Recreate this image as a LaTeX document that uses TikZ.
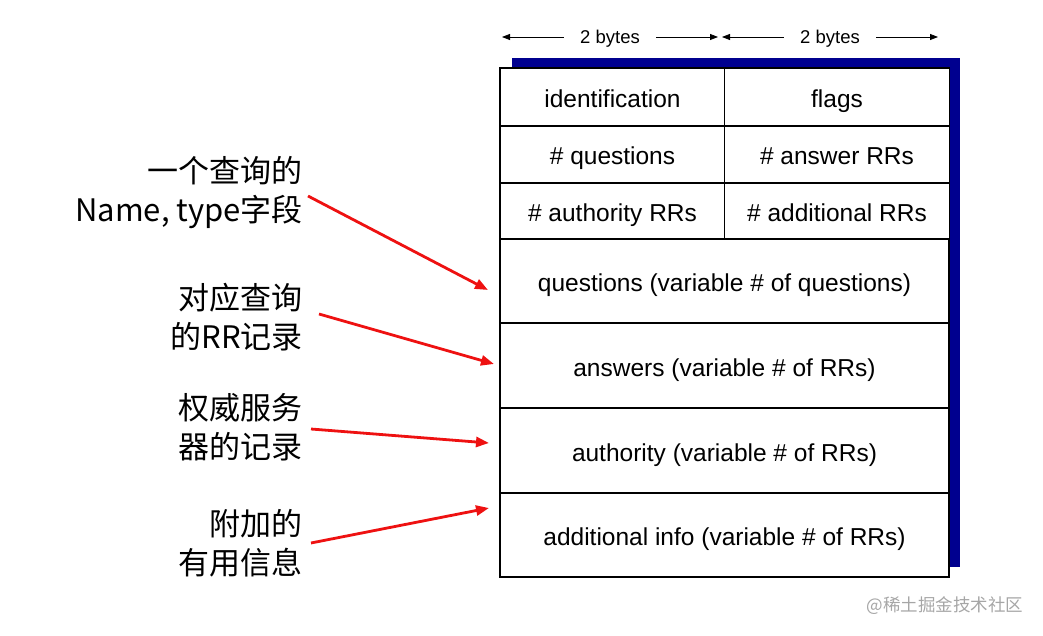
\documentclass[tikz,border=0pt]{standalone}
\usepackage{fontspec}
\setmainfont{Liberation Sans}
\newfontfamily\cjk{Noto Sans CJK SC}
\usetikzlibrary{arrows.meta,positioning}
\definecolor{shadow}{HTML}{00008F}
\definecolor{ptrred}{HTML}{EE1111}

\begin{document}
\begin{tikzpicture}[
  x=1pt,y=-1pt,
  field/.style={rectangle,draw,line width=1.6pt,fill=white,inner sep=0pt,
    text height=24pt,text depth=3pt,font=\fontsize{24.5}{28}\selectfont},
  half/.style={field,minimum width=225pt},
  full/.style={field,minimum width=449pt,minimum height=85pt},
  lbl/.style={font=\fontsize{18.5}{22}\selectfont,fill=white,inner xsep=16pt,inner ysep=1pt,yshift=-2pt},
  note/.style={font=\cjk\fontsize{31}{39}\selectfont,align=right,anchor=east,inner sep=0pt},
  ptr/.style={-{Triangle[length=13pt,width=10pt]},ptrred,line width=2.8pt},
  span/.style={{Triangle[length=8pt,width=6pt]}-{Triangle[length=8pt,width=6pt]},line width=0.8pt}]

\useasboundingbox (0,0) rectangle (1043,636);

% byte widths
\draw[span] (502,37) -- node[lbl] (w1) {2 bytes} (718,37);
\draw[span] (722,37) -- node[lbl] (w2) {2 bytes} (938,37);

% drop shadow
\fill[shadow] (512,58) rectangle (960,567);

% header fields
\node[half,minimum height=58pt] (ident) at (612.5,97) {identification};
\node[half,minimum height=58pt] (flags) at (837,97) {flags};
\node[half,minimum height=57pt] (nq) at (612.5,154.5) {\# questions};
\node[half,minimum height=57pt] (nans) at (837,154.5) {\# answer RRs};
\node[half,minimum height=56pt] (nauth) at (612.5,211) {\# authority RRs};
\node[half,minimum height=56pt] (nadd) at (837,211) {\# additional RRs};

% variable sections
\node[full,minimum height=84pt] (quest) at (724.5,281) {questions (variable \# of questions)};
\node[full] (ans) at (724.5,365.5) {answers (variable \# of RRs)};
\node[full] (auth) at (724.5,450.5) {authority (variable \# of RRs)};
\node[full,minimum height=84pt] (addl) at (724.5,535) {additional info (variable \# of RRs)};

% notes on the left
\node[note] (qnote) at (303,193) {一个查询的\\Name, type字段};
\node[note] (anote) at (303,317) {对应查询\\的RR记录};
\node[note] (snote) at (303,427) {权威服务\\器的记录};
\node[note] (inote) at (303,543) {附加的\\有用信息};

\coordinate (qtip) at (488,290);
\coordinate (atip) at (494,364);
\coordinate (stip) at (489,443);
\coordinate (itip) at (489,508);

\draw[ptr] ([xshift=5pt,yshift=-3pt]qnote.east) -- (qtip);
\draw[ptr] ([xshift=16pt,yshift=3pt]anote.east) -- (atip);
\draw[ptr] ([xshift=8pt,yshift=-2pt]snote.east) -- (stip);
\draw[ptr] ([xshift=8pt]inote.east) -- (itip);

% watermark
\node[font=\cjk\fontsize{17.5}{20}\selectfont,text=black!35] (mark) at (945,606) {@稀土掘金技术社区};
\end{tikzpicture}
\end{document}
